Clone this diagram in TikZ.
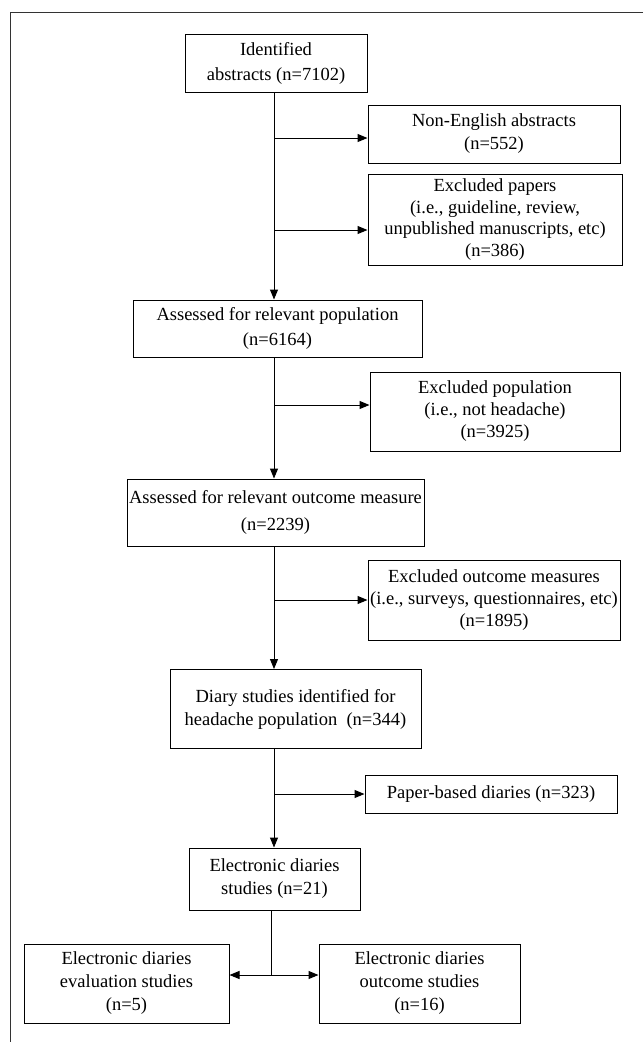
\documentclass[tikz,border=0pt]{standalone}
\usepackage{fontspec}
\setmainfont{Liberation Serif}
\usepackage{tikz}
\usetikzlibrary{arrows.meta,positioning}
\tikzstyle{box} = [draw, line width=1pt, align=center, inner xsep=2pt, inner ysep=0pt, font=\fontsize{18.5}{23}\selectfont]
\tikzstyle{arrow} = [line width=1pt, -{Stealth[length=10pt,width=8pt,inset=0pt]}]
\tikzstyle{frame} = [line width=0.9pt, black!80]

\begin{document}
\begin{tikzpicture}[x=1pt, y=-1pt]
\useasboundingbox (0,0) rectangle (643,1042);
% Frame
\draw[frame] (643,12) -- (10,12) -- (10,1042);

% Main path
\node[box, minimum width=182pt, minimum height=58pt, font=\fontsize{18.5}{25}\selectfont] (ident) at (276,63) {Identified\\abstracts (n=7102)};
\node[box, minimum width=289pt, minimum height=57pt, font=\fontsize{18.5}{25}\selectfont] (popul) at (277.5,328.5) {Assessed for relevant population\\(n=6164)};
\node[box, minimum width=297pt, minimum height=67pt, font=\fontsize{18.5}{27}\selectfont] (outc) at (275.5,512.5) {Assessed for relevant outcome measure\\(n=2239)};
\node[box, minimum width=251pt, minimum height=79pt] (diary) at (295.5,709) {Diary studies identified for\\headache population~~(n=344)};
\node[box, minimum width=171pt, minimum height=62pt] (edia) at (274.5,879) {Electronic diaries\\studies (n=21)};

% Excluded
\node[box, minimum width=252pt, minimum height=58pt] (nonen) at (494,134) {Non-English abstracts\\(n=552)};
\node[box, minimum width=254pt, minimum height=91pt, font=\fontsize{18.5}{21.5}\selectfont] (exclpap) at (495,219.5) {Excluded papers\\(i.e., guideline, review,\\unpublished manuscripts, etc)\\(n=386)};
\node[box, minimum width=250pt, minimum height=79pt, font=\fontsize{18.5}{22}\selectfont] (exclpop) at (495,411.5) {Excluded population\\(i.e., not headache)\\(n=3925)};
\node[box, minimum width=252pt, minimum height=80pt, font=\fontsize{18.5}{22}\selectfont] (excloutc) at (494,600) {Excluded outcome measures\\(i.e., surveys, questionnaires, etc)\\(n=1895)};
\node[box, minimum width=252pt, minimum height=38pt] (paper) at (491,794) {Paper-based diaries (n=323)};

% Final split
\node[box, minimum width=205pt, minimum height=79pt] (evalb) at (126.5,983.5) {Electronic diaries\\evaluation studies\\(n=5)};
\node[box, minimum width=201pt, minimum height=79pt] (outb) at (419.5,983.5) {Electronic diaries\\outcome studies\\(n=16)};

% Branch points on the trunk
\coordinate (b1) at (274,138);
\coordinate (b2) at (274,230);
\coordinate (b3) at (274,405);
\coordinate (b4) at (274,600);
\coordinate (b5) at (274,794);
\coordinate (split) at (271,975);

% Trunk
\draw[arrow] (ident.south -| b1) -- (popul.north -| b1);
\draw[arrow] (popul.south -| b3) -- (outc.north -| b3);
\draw[arrow] (outc.south -| b4) -- (diary.north -| b4);
\draw[arrow] (diary.south -| b5) -- (edia.north -| b5);
\draw[line width=1pt] (edia.south -| split) -- (split);

% Side arrows
\draw[arrow] (b1) -- (b1 -| nonen.west);
\draw[arrow] (b2) -- (b2 -| exclpap.west);
\draw[arrow] (b3) -- (b3 -| exclpop.west);
\draw[arrow] (b4) -- (b4 -| excloutc.west);
\draw[arrow] (b5) -- (b5 -| paper.west);
\draw[arrow] (split) -- (split -| evalb.east);
\draw[arrow] (split) -- (split -| outb.west);
\end{tikzpicture}
\end{document}
